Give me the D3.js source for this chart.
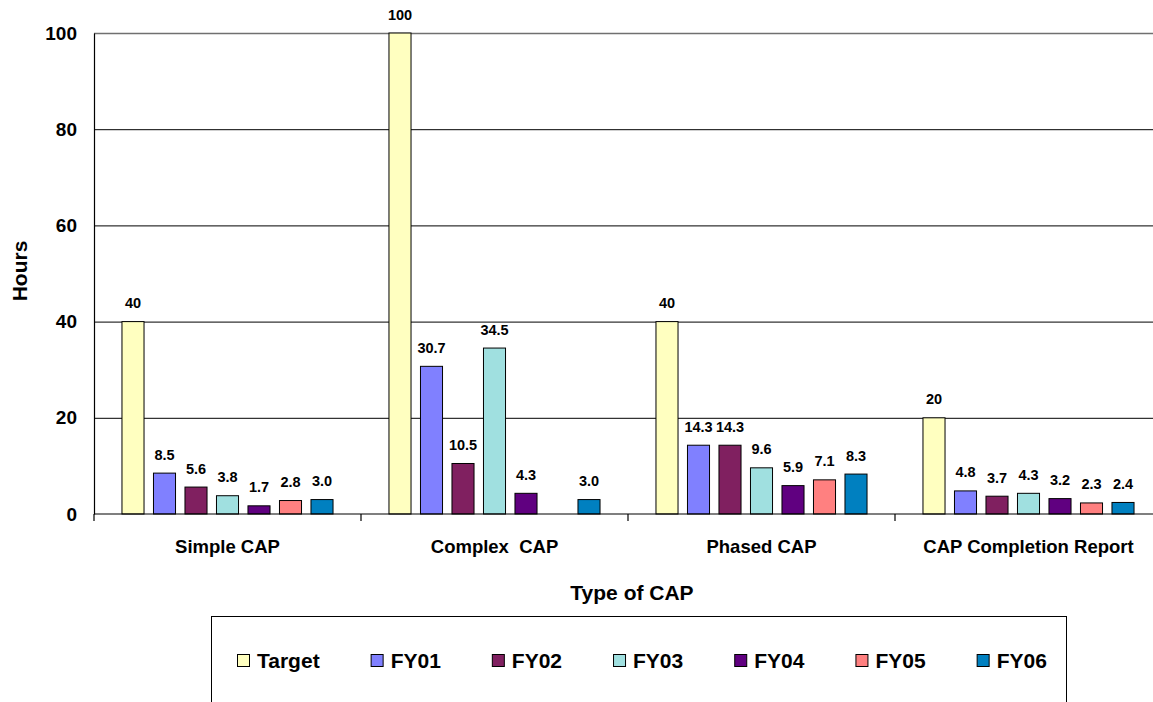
<!DOCTYPE html>
<html>
<head>
<meta charset="utf-8">
<script src="https://cdn.jsdelivr.net/npm/d3@7"></script>
<style>
  html, body { margin: 0; padding: 0; background: #fff; }
  svg { display: block; font-family: Arial, "Liberation Sans", sans-serif; }
  text { white-space: pre; }
</style>
</head>
<body>
<svg id="chart" width="1153" height="702"></svg>
<script>
// ---- data ----
const categories = ["Simple CAP", "Complex  CAP", "Phased CAP", "CAP Completion Report"];
const seriesNames = ["Target", "FY01", "FY02", "FY03", "FY04", "FY05", "FY06"];
const target = [40, 100, 40, 20];
const fy01 = [8.5, 30.7, 14.3, 4.8];
const fy02 = [5.6, 10.5, 14.3, 3.7];
const fy03 = [3.8, 34.5, 9.6, 4.3];
const fy04 = [1.7, 4.3, 5.9, 3.2];
const fy05 = [2.8, null, 7.1, 2.3];
const fy06 = [3.0, 3.0, 8.3, 2.4];
const yTicks = [0, 20, 40, 60, 80, 100];
const colors = ["#FFFFC0", "#8080FF", "#802060", "#A0E0E0", "#600080", "#FF8080", "#0080C0"];

const seriesValues = [target, fy01, fy02, fy03, fy04, fy05, fy06];

// ---- layout ----
(function () {
const svg = d3.select("#chart");
const mLeft = 94, mTop = 33, mBottom = 514, groupW = 267;
const plotRight = 1153;

const x0 = d3.scaleBand().domain(categories).range([mLeft, mLeft + groupW * categories.length]).padding(0);
const x1 = d3.scaleBand().domain(seriesNames).range([0, x0.bandwidth()]).paddingInner(0.3).paddingOuter(0.888);
const y = d3.scaleLinear().domain([0, 100]).range([mBottom, mTop]);

// gridlines
const grid = svg.append("g").attr("transform", `translate(${mLeft},0)`)
  .call(d3.axisLeft(y).tickValues(yTicks.filter(t => t > 0)).tickSize(-(plotRight - mLeft)).tickFormat(""));
grid.select(".domain").remove();
grid.selectAll(".tick line").attr("stroke", (d) => d === 100 ? "#707070" : "#000").attr("stroke-width", d => d === 100 ? 1.5 : 1);

// bars
const rows = [];
categories.forEach((c, ci) => {
  seriesNames.forEach((s, si) => {
    rows.push({ cat: c, series: s, si, value: seriesValues[si][ci] });
  });
});
const valid = rows.filter(d => d.value != null);

svg.append("g").selectAll("rect").data(valid).join("rect")
  .attr("x", d => x0(d.cat) + x1(d.series))
  .attr("y", d => y(d.value))
  .attr("width", x1.bandwidth())
  .attr("height", d => y(0) - y(d.value))
  .attr("fill", d => colors[d.si])
  .attr("stroke", "#000")
  .attr("stroke-width", 1);

// value labels
const fmtT = d3.format("d"), fmtF = d3.format(".1f");
svg.append("g").selectAll("text").data(valid).join("text")
  .attr("x", d => x0(d.cat) + x1(d.series) + x1.bandwidth() / 2)
  .attr("y", d => y(d.value) - 13.5)
  .attr("text-anchor", "middle")
  .attr("font-size", 14.5)
  .attr("font-weight", "bold")
  .attr("fill", "#000")
  .text(d => d.si === 0 ? fmtT(d.value) : fmtF(d.value));

// y axis
const yAxis = svg.append("g").attr("transform", `translate(${mLeft},0)`)
  .call(d3.axisLeft(y).tickValues(yTicks).tickSize(0).tickPadding(17).tickFormat(d3.format("d")));
yAxis.select(".domain").attr("stroke", "#000").attr("stroke-width", 1.2);
yAxis.selectAll("text").attr("font-size", 19).attr("font-weight", "bold").attr("fill", "#000")
  .attr("font-family", "Arial, 'Liberation Sans', sans-serif");

// x axis line
svg.append("line").attr("x1", mLeft).attr("x2", plotRight).attr("y1", mBottom).attr("y2", mBottom)
  .attr("stroke", "#000").attr("stroke-width", 1.2);
// boundary ticks
const bounds = categories.map(c => x0(c)).concat([x0.range()[1]]);
svg.append("g").selectAll("line").data(bounds).join("line")
  .attr("x1", d => d).attr("x2", d => d).attr("y1", mBottom).attr("y2", mBottom + 7)
  .attr("stroke", "#000").attr("stroke-width", 1.2);

// category labels
svg.append("g").selectAll("text").data(categories).join("text")
  .attr("x", d => x0(d) + x0.bandwidth() / 2)
  .attr("y", 553)
  .attr("text-anchor", "middle")
  .attr("font-size", 18.5)
  .attr("font-weight", "bold")
  .attr("fill", "#000")
  .text(d => d);

// axis titles
svg.append("text").attr("x", 632).attr("y", 600).attr("text-anchor", "middle")
  .attr("font-size", 21).attr("font-weight", "bold").text("Type of CAP");
svg.append("text").attr("transform", "translate(27,271) rotate(-90)").attr("text-anchor", "middle")
  .attr("font-size", 21).attr("font-weight", "bold").text("Hours");

// legend
svg.append("rect").attr("x", 211.5).attr("y", 616.5).attr("width", 855).attr("height", 120)
  .attr("fill", "#fff").attr("stroke", "#000").attr("stroke-width", 1);
const lg = svg.append("g");
let lx = 237;
seriesNames.forEach((s, i) => {
  lg.append("rect").attr("x", lx + 0.5).attr("y", 654.5).attr("width", 12).attr("height", 12)
    .attr("fill", colors[i]).attr("stroke", "#000").attr("stroke-width", 1);
  const t = lg.append("text").attr("x", lx + 20).attr("y", 668)
    .attr("font-size", 21).attr("font-weight", "bold").text(s);
  const w = t.node().getComputedTextLength();
  lx = lx + 20 + w + 51;
});
})();
</script>
</body>
</html>
